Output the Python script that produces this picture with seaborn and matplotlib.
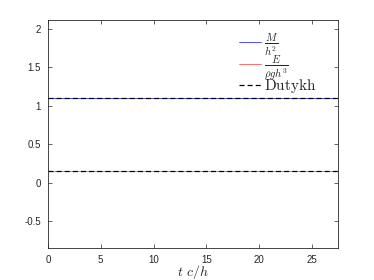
import numpy as np
import pandas as pd
import matplotlib
matplotlib.use("Agg")
import matplotlib.pyplot as plt
import seaborn as sns

# Data
t_vals = [0, 5, 10, 15, 20, 25, 27.5]
mass_vals = [1.10, 1.10, 1.10, 1.10, 1.10, 1.10, 1.10]
energy_vals = [0.152, 0.152, 0.152, 0.152, 0.152, 0.152, 0.152]
dutykh_mass = [1.10, 1.10, 1.10, 1.10, 1.10, 1.10, 1.10]
dutykh_energy = [0.152, 0.152, 0.152, 0.152, 0.152, 0.152, 0.152]
x_ticks = [0, 5, 10, 15, 20, 25]
y_ticks = [-0.5, 0, 0.5, 1, 1.5, 2]

sns.set_style("ticks")
plt.rcParams['font.family'] = ['Liberation Sans', 'DejaVu Sans']
plt.rcParams['mathtext.fontset'] = 'cm'

fig = plt.figure(figsize=(3.74, 2.8), dpi=100)
ax = fig.add_axes([0.128, 0.114, 0.777, 0.815])

sns.lineplot(x=t_vals, y=mass_vals, ax=ax, color='#3333ff', lw=0.6, label=r'$\frac{M}{h^2}$')
sns.lineplot(x=t_vals, y=energy_vals, ax=ax, color='#ff5555', lw=0.6, label=r'$\frac{E}{\rho g h^3}$')
sns.lineplot(x=t_vals, y=dutykh_mass, ax=ax, color='black', lw=0.9, ls=(0, (4, 2.5)), label=r'$\mathrm{Dutykh}$')
sns.lineplot(x=t_vals, y=dutykh_energy, ax=ax, color='black', lw=0.9, ls=(0, (4, 2.5)))

ax.set_xlim(0, 27.5)
ax.set_ylim(-0.845, 2.115)
ax.set_xticks(x_ticks)
ax.set_yticks(y_ticks)
ax.set_yticklabels(['-0.5', '0', '0.5', '1', '1.5', '2'])
ax.tick_params(direction='in', length=3, width=0.5, labelsize=7, colors='#262626',
               top=True, right=True, pad=5)
for s in ax.spines.values():
    s.set_linewidth(0.6)
    s.set_color('#262626')
ax.set_xlabel(r'$t\ c/h$', fontsize=10, labelpad=-1.5)
ax.set_ylabel('')

leg = ax.legend(loc='upper right', bbox_to_anchor=(0.955, 0.99), frameon=False,
                fontsize=11, handlelength=1.4, handletextpad=0.2, labelspacing=-0.3,
                borderaxespad=0.2)
fig.savefig('out.png', dpi=100)
